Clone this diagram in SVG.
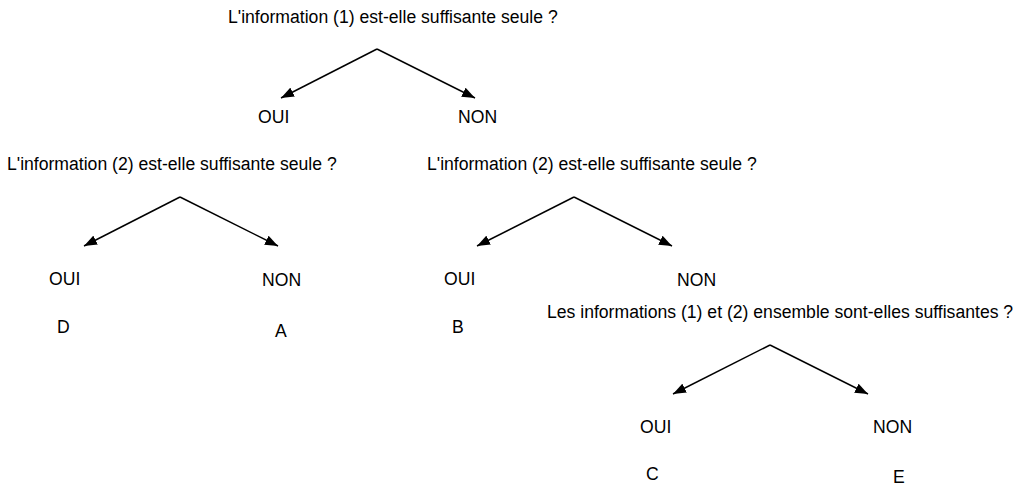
<svg xmlns="http://www.w3.org/2000/svg" width="1025" height="486" viewBox="0 0 1025 486">
<style>
text{font-family:"Liberation Sans",Arial,sans-serif;font-size:17.6px;fill:#000}
.c{stroke:#000;stroke-width:1.5;fill:none}
</style>
<defs>
<marker id="ah" markerUnits="userSpaceOnUse" markerWidth="14" markerHeight="10" refX="13" refY="5" orient="auto">
<path d="M0,0 L13,5 L0,10 Z" fill="#000"/>
</marker>
</defs>
<rect width="1025" height="486" fill="#fff"/>
<g id="connectors">
<line class="c" x1="377" y1="49" x2="281" y2="98" marker-end="url(#ah)"/>
<line class="c" x1="377" y1="49" x2="475" y2="98" marker-end="url(#ah)"/>
<line class="c" x1="180" y1="197" x2="84" y2="246" marker-end="url(#ah)"/>
<line class="c" x1="180" y1="197" x2="278" y2="246" marker-end="url(#ah)"/>
<line class="c" x1="574" y1="197" x2="477" y2="246" marker-end="url(#ah)"/>
<line class="c" x1="574" y1="197" x2="672" y2="246" marker-end="url(#ah)"/>
<line class="c" x1="770" y1="345" x2="673" y2="394" marker-end="url(#ah)"/>
<line class="c" x1="770" y1="345" x2="868" y2="394" marker-end="url(#ah)"/>
</g>
<g id="q1"><text x="228" y="23">L'information (1) est-elle suffisante seule ?</text></g>
<g id="q1-oui"><text x="258" y="123">OUI</text></g>
<g id="q1-non"><text x="458" y="123">NON</text></g>
<g id="q2a"><text x="7" y="170">L'information (2) est-elle suffisante seule ?</text></g>
<g id="q2a-oui"><text x="49" y="285">OUI</text></g>
<g id="q2a-non"><text x="262" y="286">NON</text></g>
<g id="d"><text x="57" y="333">D</text></g>
<g id="a"><text x="275" y="337">A</text></g>
<g id="q2b"><text x="427" y="170">L'information (2) est-elle suffisante seule ?</text></g>
<g id="q2b-oui"><text x="444" y="285">OUI</text></g>
<g id="q2b-non"><text x="677" y="286">NON</text></g>
<g id="b"><text x="452" y="333">B</text></g>
<g id="q3"><text x="547" y="318">Les informations (1) et (2) ensemble sont-elles suffisantes ?</text></g>
<g id="q3-oui"><text x="640" y="433">OUI</text></g>
<g id="q3-non"><text x="873" y="433">NON</text></g>
<g id="c"><text x="646" y="480">C</text></g>
<g id="e"><text x="893" y="483">E</text></g>
</svg>
